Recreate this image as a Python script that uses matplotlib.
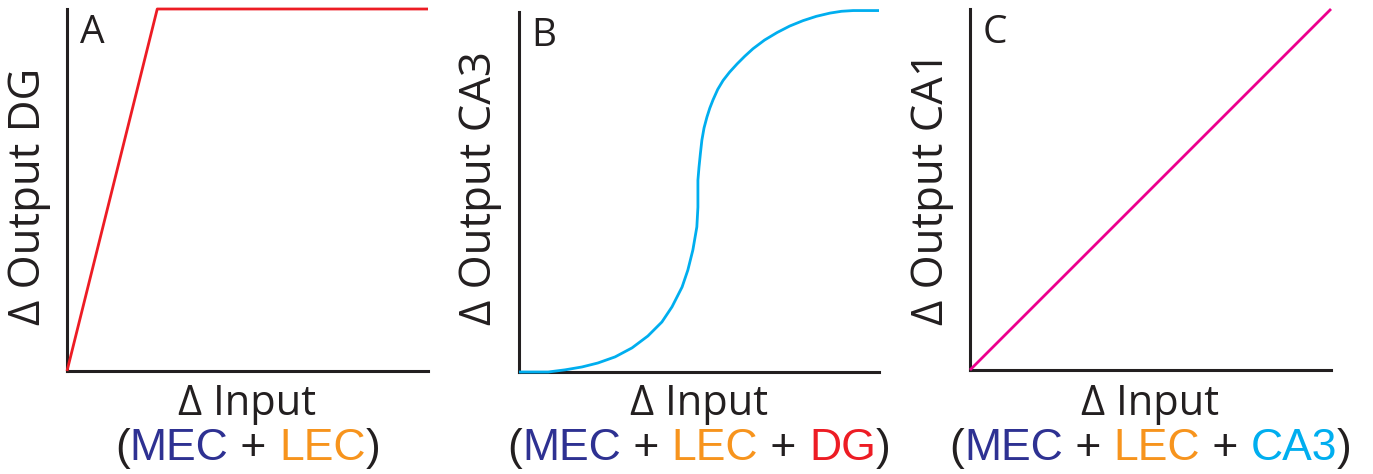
import matplotlib.pyplot as plt

# panel A: threshold-linear then saturating (DG)
dg_x = [0.0, 0.25, 1.0]
dg_y = [0.0, 1.0, 1.0]

# panel B: sigmoid (CA3)
ca3_x = [0.0, 0.081, 0.128, 0.175, 0.219, 0.267, 0.314, 0.358, 0.397, 0.425,
         0.453, 0.469, 0.483, 0.494, 0.497, 0.497, 0.500, 0.504, 0.508, 0.514,
         0.522, 0.530, 0.539, 0.552, 0.567, 0.585, 0.606, 0.627, 0.650, 0.682,
         0.717, 0.752, 0.789, 0.826, 0.864, 0.896, 0.928, 1.0]
ca3_y = [0.0, 0.0, 0.006, 0.014, 0.025, 0.042, 0.067, 0.100, 0.139, 0.181,
         0.236, 0.283, 0.339, 0.403, 0.458, 0.533, 0.569, 0.608, 0.644, 0.678,
         0.708, 0.733, 0.756, 0.785, 0.810, 0.833, 0.856, 0.877, 0.898, 0.922,
         0.943, 0.961, 0.976, 0.988, 0.997, 1.002, 1.004, 1.004]

# panel C: linear (CA1)
ca1_x = [0.0, 1.0]
ca1_y = [0.0, 1.0]

panel_letters = ['A', 'B', 'C']
ylabels = ['\u0394 Output DG', '\u0394 Output CA3', '\u0394 Output CA1']
input_parts = [
    [('(', 'k'), ('MEC', 'mec'), (' + ', 'k'), ('LEC', 'lec'), (')', 'k')],
    [('(', 'k'), ('MEC', 'mec'), (' + ', 'k'), ('LEC', 'lec'), (' + ', 'k'), ('DG', 'dg'), (')', 'k')],
    [('(', 'k'), ('MEC', 'mec'), (' + ', 'k'), ('LEC', 'lec'), (' + ', 'k'), ('CA3', 'ca3'), (')', 'k')],
]

colors = {'k': '#231F20', 'mec': '#2E3192', 'lec': '#F7941D',
          'dg': '#ED1C24', 'ca3': '#00AEEF', 'ca1': '#EC008C'}

plt.rcParams['font.family'] = ['Open Sans', 'DejaVu Sans']

W, H = 1373, 474
fig = plt.figure(figsize=(W / 100, H / 100), dpi=100)

# axes boxes in pixels: left, top, right, bottom
boxes = [(67, 9, 428, 371), (519, 12, 879, 372), (970, 9, 1331, 370)]
ylab_x = [29, 480, 932]
curves = [(dg_x, dg_y, colors['dg']), (ca3_x, ca3_y, colors['ca3']), (ca1_x, ca1_y, colors['ca1'])]

for i, (l, t, r, b) in enumerate(boxes):
    ax = fig.add_axes([l / W, 1 - b / H, (r - l) / W, (b - t) / H])
    xs, ys, c = curves[i]
    ax.plot(xs, ys, color=c, lw=2.0, clip_on=False, solid_capstyle='butt',
            solid_joinstyle='round', zorder=3)
    ax.set_xlim(0, 1)
    ax.set_ylim(0, 1)
    for s in ['top', 'right']:
        ax.spines[s].set_visible(False)
    for s in ['left', 'bottom']:
        ax.spines[s].set_linewidth(2.2)
        ax.spines[s].set_color(colors['k'])
    ax.set_xticks([])
    ax.set_yticks([])
    ax.patch.set_visible(False)

    ax.text(0.035, 0.985, panel_letters[i], transform=ax.transAxes, fontsize=28,
            color=colors['k'], ha='left', va='top')
    fig.text(ylab_x[i] / W, 1 - 325 / H, ylabels[i], rotation=90, fontsize=31.5,
             color=colors['k'], ha='center', va='bottom')
    cx = (l + r) / 2
    fig.text(cx / W, 1 - 415 / H, '\u0394 Input', fontsize=30, color=colors['k'],
             ha='center', va='baseline')

    # multi-coloured input line, centred under the axes
    renderer = fig.canvas.get_renderer()
    texts = []
    widths = []
    for s, ck in input_parts[i]:
        tx = fig.text(0, 1 - 460 / H, s, fontsize=32, color=colors[ck], ha='left',
                      va='baseline', family=['Liberation Sans', 'DejaVu Sans'])
        texts.append(tx)
        widths.append(tx.get_window_extent(renderer).width)
    x0 = cx - sum(widths) / 2
    for tx, w in zip(texts, widths):
        tx.set_x(x0 / W)
        x0 += w

fig.savefig('out.png', dpi=100)
